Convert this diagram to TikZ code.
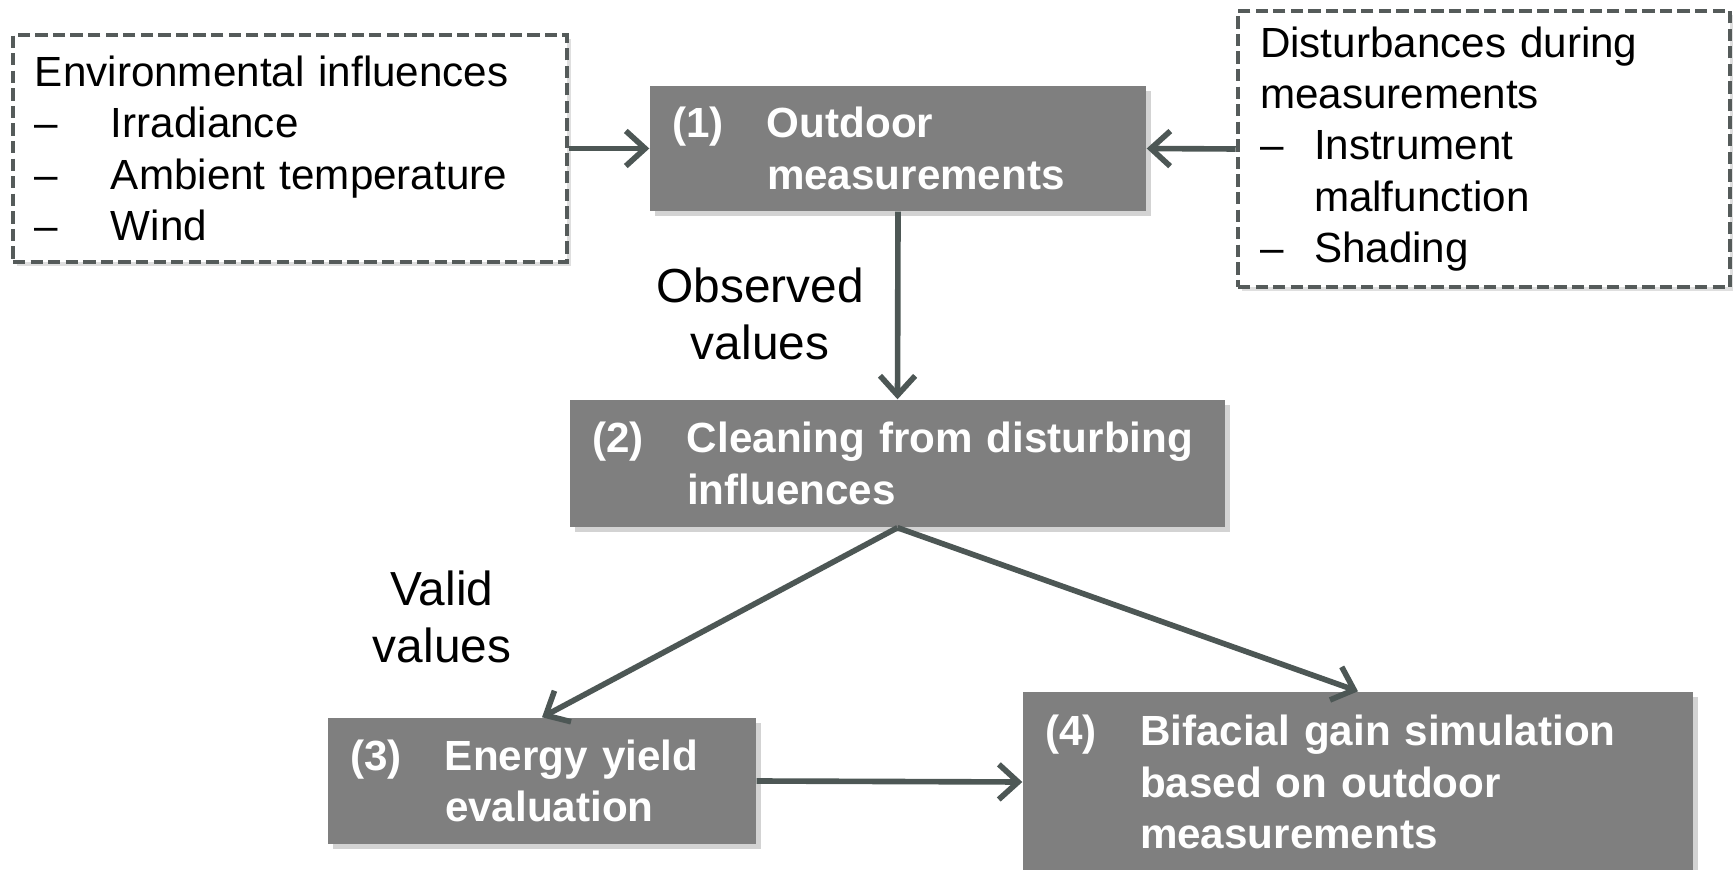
\documentclass[tikz,border=0pt]{standalone}
\usepackage{fontspec}
\setmainfont{Liberation Sans}
\usepackage{xcolor}
\usepackage{tikz}
\usetikzlibrary{arrows.meta}
\usetikzlibrary{shadows}

\definecolor{boxgray}{RGB}{127,127,127}
\definecolor{linegray}{RGB}{77,87,85}
\definecolor{dashgray}{RGB}{85,91,90}

\newcommand{\stepnum}[1]{\makebox[0.95cm][l]{#1}}
\newcommand{\stepind}{\hspace*{0.95cm}}

\begin{document}
\begin{tikzpicture}[
  every node/.style={font=\fontsize{12}{14.6}\selectfont},
  stepbox/.style={rectangle,fill=boxgray,text=white,font=\fontsize{12}{14.6}\selectfont\bfseries,
    align=left,inner xsep=0.22cm,inner ysep=0pt,
    drop shadow={opacity=0.35,shadow xshift=1.5pt,shadow yshift=-1.5pt}},
  infobox/.style={rectangle,draw=dashgray,fill=white,line width=1.3pt,dash pattern=on 3.5pt off 1.5pt,
    align=left,inner xsep=0.22cm,inner ysep=0pt,
    drop shadow={opacity=0.25,shadow xshift=1.2pt,shadow yshift=-1.2pt}},
  flowlabel/.style={align=center,font=\fontsize{13.6}{16}\selectfont},
  flow/.style={draw=linegray,line width=1.6pt,-{Straight Barb[length=5.5pt,width=10pt]}}]
\useasboundingbox (0,0) rectangle (17.33,8.69);

\node[infobox,text width=5.10cm,minimum height=2.27cm] (env) at (2.90,7.205)
  {Environmental influences\\
   \makebox[0.76cm][l]{--}Irradiance\\
   \makebox[0.76cm][l]{--}Ambient temperature\\
   \makebox[0.76cm][l]{--}Wind};
\node[infobox,text width=4.48cm,minimum height=2.76cm] (dist) at (14.84,7.20)
  {Disturbances during\\
   measurements\\
   \makebox[0.54cm][l]{--}Instrument\\
   \hspace*{0.54cm}malfunction\\
   \makebox[0.54cm][l]{--}Shading};

\node[stepbox,text width=4.52cm,minimum height=1.25cm] (meas) at (8.98,7.205)
  {\stepnum{(1)}Outdoor\\\stepind measurements};
\node[stepbox,text width=6.11cm,minimum height=1.27cm] (clean) at (8.975,4.055)
  {\stepnum{(2)}Cleaning from disturbing\\\stepind influences};
\node[stepbox,text width=3.84cm,minimum height=1.26cm] (yield) at (5.42,0.88)
  {\stepnum{(3)}Energy yield\\\stepind evaluation};
\node[stepbox,text width=6.26cm,minimum height=1.80cm] (gain) at (13.58,0.87)
  {\stepnum{(4)}Bifacial gain simulation\\\stepind based on outdoor\\\stepind measurements};

\node[flowlabel] (observed) at (7.60,5.55) {Observed\\values};
\node[flowlabel] (valid) at (4.42,2.52) {Valid\\values};

\draw[flow] (env.east) -- (meas.west);
\draw[flow] (dist.west) -- (meas.east);
\draw[flow] (meas.south) -- (clean.north);
\draw[flow] (clean.south) -- (yield.north);
\draw[flow] (clean.south) -- (gain.north);
\draw[flow] (yield.east) -- (gain.west);
\end{tikzpicture}
\end{document}
